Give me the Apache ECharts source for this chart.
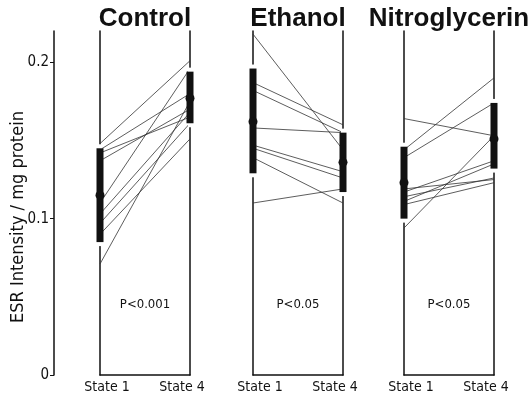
<!DOCTYPE html>
<html>
<head>
<meta charset="utf-8">
<script src="https://cdn.jsdelivr.net/npm/echarts@6/dist/echarts.min.js"></script>
<style>
  html, body { margin: 0; padding: 0; background: #fff; }
  #main { width: 532px; height: 399px; }
</style>
</head>
<body>
<div id="main"></div>
<script>
// 数据
var states = ["State 1", "State 4"];
var groups = ["Control", "Ethanol", "Nitroglycerin"];
var pLabels = ["P<0.001", "P<0.05", "P<0.05"];
var yTicks = [0, 0.1, 0.2];

// individual animals, State 1 -> State 4
var controlState1 = [0.148, 0.144, 0.142, 0.137, 0.110, 0.103, 0.097, 0.090, 0.071];
var controlState4 = [0.201, 0.180, 0.165, 0.170, 0.196, 0.168, 0.161, 0.151, 0.175];
var ethanolState1 = [0.218, 0.187, 0.182, 0.158, 0.147, 0.145, 0.139, 0.110];
var ethanolState4 = [0.144, 0.160, 0.155, 0.155, 0.130, 0.126, 0.110, 0.119];
var nitroState1 = [0.164, 0.144, 0.139, 0.119, 0.117, 0.114, 0.111, 0.109, 0.094];
var nitroState4 = [0.153, 0.190, 0.174, 0.125, 0.137, 0.126, 0.135, 0.123, 0.153];

// mean and SD bar ends [State 1, State 4]
var controlMean = [0.115, 0.177];
var controlLow = [0.085, 0.161];
var controlHigh = [0.145, 0.194];
var ethanolMean = [0.162, 0.136];
var ethanolLow = [0.129, 0.117];
var ethanolHigh = [0.196, 0.155];
var nitroMean = [0.123, 0.151];
var nitroLow = [0.100, 0.132];
var nitroHigh = [0.146, 0.174];

var yMax = 0.22;
var smallFont = "'DejaVu Sans Condensed', 'Liberation Sans Narrow', 'DejaVu Sans', sans-serif";
var titleFont = "'Liberation Sans', Arial, sans-serif";

var panelState1 = [controlState1, ethanolState1, nitroState1];
var panelState4 = [controlState4, ethanolState4, nitroState4];
var panelMean = [controlMean, ethanolMean, nitroMean];
var panelLow = [controlLow, ethanolLow, nitroLow];
var panelHigh = [controlHigh, ethanolHigh, nitroHigh];
var panelLeft = [100, 253, 404];
var panelWidth = 90;
var gridTop = 31;
var gridHeight = 344;

var chart = echarts.init(document.getElementById("main"));

var grid = [];
var xAxis = [];
var yAxis = [];
var series = [];
var graphic = [];

_each(groups, function (name, g) {
  grid.push({ left: panelLeft[g], top: gridTop, width: panelWidth, height: gridHeight });
  xAxis.push({
    type: "category",
    gridIndex: g,
    boundaryGap: false,
    data: states,
    axisLine: { show: true, lineStyle: { color: "#111", width: 1.5 } },
    axisTick: { show: false },
    splitLine: { show: false },
    axisLabel: {
      margin: 5,
      interval: 0,
      color: "#111",
      formatter: function (v, i) {
        return i === 0 ? "{a|" + v + "}" : "{b|" + v + "}";
      },
      rich: {
        a: { fontSize: 14, fontFamily: smallFont, color: "#111", padding: [0, 0, 0, 14] },
        b: { fontSize: 14, fontFamily: smallFont, color: "#111", padding: [0, 16, 0, 0] }
      }
    }
  });
  // 左右两条竖线
  ["left", "right"].forEach(function (pos) {
    yAxis.push({
      type: "value",
      gridIndex: g,
      position: pos,
      min: 0,
      max: yMax,
      axisLine: { show: true, lineStyle: { color: "#111", width: 1.5 } },
      axisTick: { show: false },
      axisLabel: { show: false },
      splitLine: { show: false }
    });
  });

  // 个体连线
  var s1 = panelState1[g];
  var s4 = panelState4[g];
  for (var i = 0; i < s1.length; i++) {
    series.push({
      type: "line",
      xAxisIndex: g,
      yAxisIndex: g * 2,
      data: [s1[i], s4[i]],
      symbol: "none",
      silent: true,
      z: 2,
      lineStyle: { color: "#333", width: 0.8 }
    });
  }

  // 均值 + SD 粗条
  series.push({
    type: "custom",
    xAxisIndex: g,
    yAxisIndex: g * 2,
    z: 3,
    silent: true,
    encode: { x: 0, y: [1, 2, 3] },
    data: [0, 1].map(function (k) {
      return [k, panelLow[g][k], panelHigh[g][k], panelMean[g][k]];
    }),
    renderItem: function (params, api) {
      var top = api.coord([api.value(0), api.value(2)]);
      var bot = api.coord([api.value(0), api.value(1)]);
      var mid = api.coord([api.value(0), api.value(3)]);
      return {
        type: "group",
        children: [
          { type: "rect", shape: { x: top[0] - 2, y: top[1] - 4, width: 4, height: bot[1] - top[1] + 8 }, style: { fill: "#fff" } },
          { type: "rect", shape: { x: top[0] - 3.5, y: top[1], width: 7, height: bot[1] - top[1] }, style: { fill: "#111" } },
          { type: "circle", shape: { cx: mid[0], cy: mid[1], r: 4.5 }, style: { fill: "#111" } }
        ]
      };
    }
  });

  graphic.push({
    type: "text",
    x: panelLeft[g] + panelWidth / 2,
    y: 19,
    style: { text: name, font: "bold 26px " + titleFont, fill: "#111", textAlign: "center", textVerticalAlign: "middle" }
  });
  graphic.push({
    type: "text",
    x: panelLeft[g] + panelWidth / 2,
    y: 305,
    style: { text: pLabels[g], font: "13px " + smallFont, fill: "#111", textAlign: "center", textVerticalAlign: "middle" }
  });
});

function _each(arr, fn) {
  for (var i = 0; i < arr.length; i++) fn(arr[i], i);
}

// 主 y 轴
grid.push({ left: 54, top: gridTop, width: 10, height: gridHeight });
xAxis.push({ type: "value", gridIndex: 3, show: false });
yAxis.push({
  type: "value",
  gridIndex: 3,
  min: 0,
  max: yMax,
  axisLine: { show: true, lineStyle: { color: "#111", width: 1.5 } },
  axisTick: { show: true, length: 4, customValues: yTicks, lineStyle: { color: "#111" } },
  axisLabel: {
    customValues: yTicks,
    margin: 5,
    fontSize: 15,
    fontFamily: smallFont,
    color: "#111",
    formatter: function (v) {
      return v === 0 ? "0" : v.toFixed(1);
    }
  },
  splitLine: { show: false }
});

graphic.push({
  type: "text",
  x: 18,
  y: 217,
  rotation: Math.PI / 2,
  style: { text: "ESR Intensity / mg protein", font: "18px " + smallFont, fill: "#111", textAlign: "center", textVerticalAlign: "middle" }
});

chart.setOption({
  animation: false,
  backgroundColor: "#fff",
  grid: grid,
  xAxis: xAxis,
  yAxis: yAxis,
  series: series,
  graphic: graphic
});
</script>
</body>
</html>
